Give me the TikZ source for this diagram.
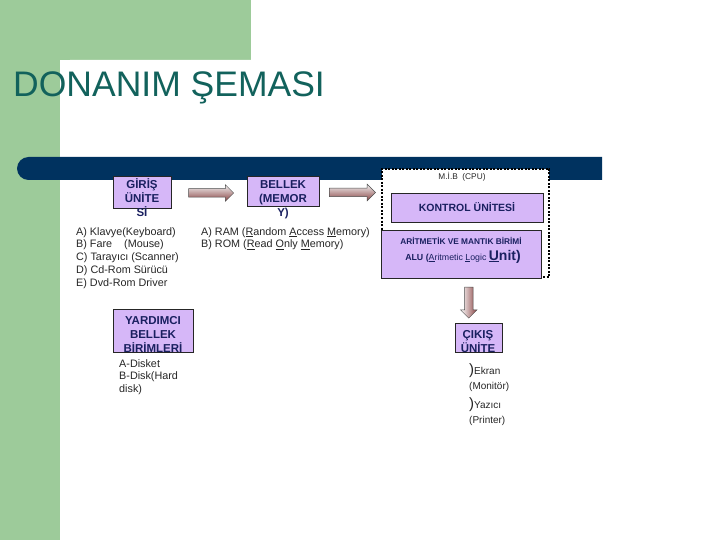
\documentclass[tikz,border=0pt]{standalone}
\usepackage{fontspec}
\setmainfont{Liberation Sans}
\usetikzlibrary{positioning,calc,shapes.arrows}
\definecolor{mGreen}{HTML}{9DCB9A}
\definecolor{mBar}{HTML}{00325F}
\definecolor{mTeal}{HTML}{12625C}
\definecolor{mLav}{HTML}{C498F5}
\definecolor{mNavy}{HTML}{1A2060}
\definecolor{mInk}{HTML}{262626}
\definecolor{mRust}{HTML}{8A4545}
\tikzset{
 unit/.style={draw=black!85, line width=0.6pt, fill=mLav!70, inner sep=0pt},
 unittxt/.style={font=\fontsize{11.5}{14}\selectfont\bfseries, text=mNavy, align=center, inner sep=0pt},
 listtxt/.style={font=\fontsize{10.8}{12.8}\selectfont, text=mInk, align=left, inner sep=0pt, anchor=north west},
 blockarr/.style={single arrow, draw=black!70, line width=0.5pt, inner xsep=0pt, inner ysep=4pt, single arrow head extend=4pt, top color=gray!10, bottom color=mRust}
}
\begin{document}
\begin{tikzpicture}[x=1pt,y=-1pt]
\useasboundingbox (0,0) rectangle (720,540);
\clip (0,0) rectangle (720,540);
\fill[mGreen] (0,0) rectangle (251,60);
\fill[mGreen] (0,0) rectangle (60,540);
\fill[white, rounded corners=10pt] (60,60) rectangle (730,550);
\fill[mBar] (602,157) -- (28.5,157) arc (270:90:11.5) -- (602,180) -- cycle;
\node[font=\fontsize{35.5}{36}\selectfont, text=mTeal, anchor=base west, inner sep=0pt] (title) at (13,97) {DONANIM ŞEMASI};

\node[unit, minimum width=58pt, minimum height=32pt] (giris) at (142,192) {};
\node[unit, minimum width=72pt, minimum height=30pt] (bellek) at (283,191) {};
\node[draw=black, line width=1.2pt, dash pattern=on 2pt off 1.5pt, fill=white, minimum width=167pt, minimum height=108pt, inner sep=0pt] (cpu) at (465.5,223) {};
\node[unit, minimum width=152pt, minimum height=29pt] (kontrol) at (467,207.5) {};
\node[unit, minimum width=160pt, minimum height=48pt] (alu) at (461,254) {};
\node[unit, minimum width=80pt, minimum height=43pt] (yardimci) at (153,330.5) {};
\node[unit, minimum width=47pt, minimum height=29pt] (cikis) at (478.5,337.5) {};

\node[unittxt] (girisT) at (142,198) {GİRİŞ\\ÜNİTE\\Sİ};
\node[unittxt] (bellekT) at (283,200) {BELLEK\\(MEMOR\\Y)};
\begin{scope}
\clip (yardimci.south west) rectangle (yardimci.north east);
\node[unittxt] (yardimciT) at (153,334) {YARDIMCI\\BELLEK\\BİRİMLERİ};
\end{scope}
\begin{scope}
\clip (cikis.south west) rectangle (cikis.north east);
\node[unittxt] (cikisT) at (478,342) {ÇIKIŞ\\ÜNİTE};
\end{scope}
\node[font=\fontsize{8.3}{10}\selectfont, text=mInk, inner sep=0pt] (cpuT) at (462,177) {M.İ.B\ \ (CPU)};
\node[font=\fontsize{10.5}{12}\selectfont\bfseries, text=mNavy, inner sep=0pt] (kontrolT) at (kontrol) {KONTROL ÜNİTESİ};
\node[font=\fontsize{8.3}{10}\selectfont\bfseries, text=mNavy, inner sep=0pt] (aluA) at (461,241) {ARİTMETİK VE MANTIK BİRİMİ};
\node[font=\fontsize{8.8}{10}\selectfont\bfseries, text=mNavy, inner sep=0pt, anchor=base] (aluB) at (463,260) {ALU ({\mdseries\underline{A}ritmetic \underline{L}ogic} {\fontsize{14}{14}\selectfont\underline{U}nit)}};

\node[listtxt] (girisL) at (76,227) {A) Klavye(Keyboard)\\B) Fare\hspace{12pt}(Mouse)\\C) Tarayıcı (Scanner)\\D) Cd-Rom Sürücü\\E) Dvd-Rom Driver};
\node[listtxt] (bellekL) at (201,227) {A) RAM (\underline{R}andom \underline{A}ccess \underline{M}emory)\\B) ROM (\underline{R}ead \underline{O}nly \underline{M}emory)};
\node[listtxt] (yardimciL) at (119,359) {A-Disket\\B-Disk(Hard\\disk)};
\node[listtxt, font=\fontsize{10}{15}\selectfont] (cikisL) at (469,363) {{\fontsize{15}{15}\selectfont)}Ekran\\(Monitör)\\[4pt]{\fontsize{15}{15}\selectfont)}Yazıcı\\(Printer)};

\node[blockarr, minimum height=45pt] (arrA) at ($(giris.east)!0.5!(bellek.west)+(0,1.5)$) {};
\node[blockarr, minimum height=46pt] (arrB) at ($(bellek.east)!0.5!(cpu.west |- bellek.east)+(0,1.5)$) {};
\node[blockarr, minimum height=31pt, inner xsep=4pt, inner ysep=0pt, shape border rotate=270, left color=white, right color=mRust] (arrC) at ($(alu.south)!0.5!(cikis.north)+(-1,0)$) {};
\end{tikzpicture}
\end{document}
